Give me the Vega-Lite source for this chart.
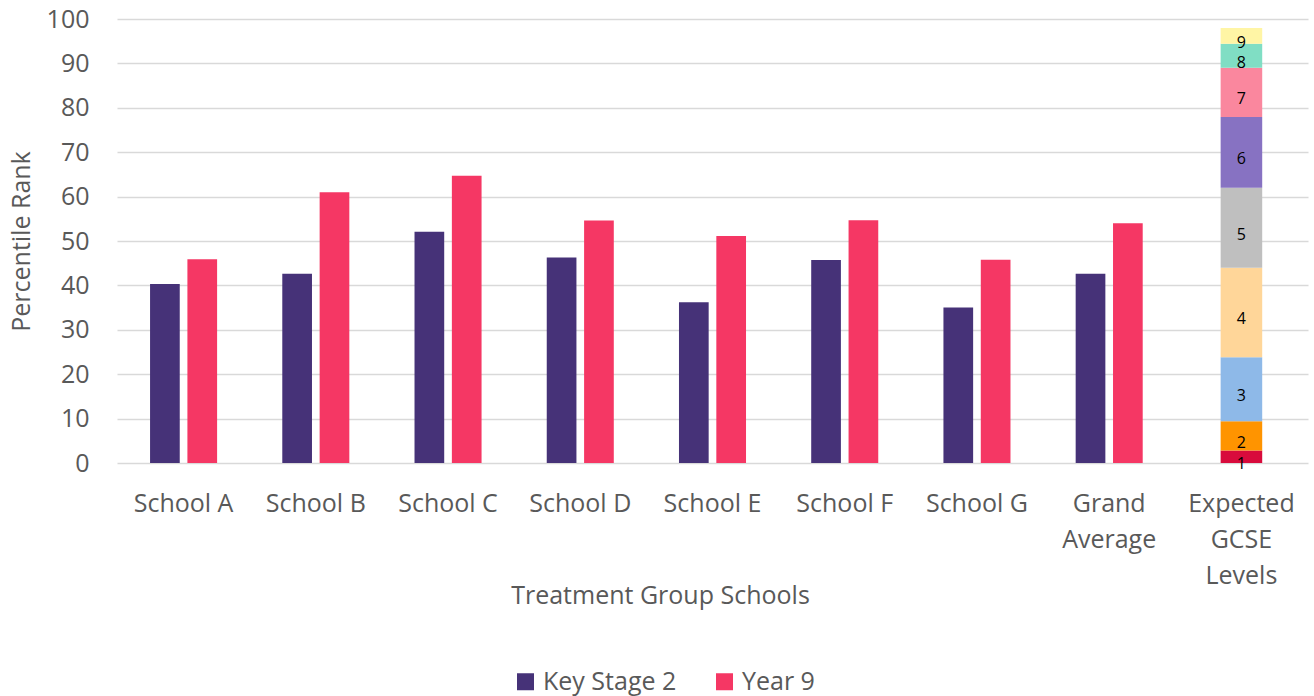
{
  "$schema": "https://vega.github.io/schema/vega-lite/v6.json",
  "width": 1191,
  "height": 444,
  "autosize": {"type": "none"},
  "padding": {"left": 117, "top": 19, "right": 6, "bottom": 233},
  "background": "white",
  "datasets": {
    "schools": [
      {"group": "School A", "series": "Key Stage 2", "value": 40.3},
      {"group": "School A", "series": "Year 9", "value": 45.9},
      {"group": "School B", "series": "Key Stage 2", "value": 42.6},
      {"group": "School B", "series": "Year 9", "value": 61.0},
      {"group": "School C", "series": "Key Stage 2", "value": 52.1},
      {"group": "School C", "series": "Year 9", "value": 64.7},
      {"group": "School D", "series": "Key Stage 2", "value": 46.3},
      {"group": "School D", "series": "Year 9", "value": 54.6},
      {"group": "School E", "series": "Key Stage 2", "value": 36.2},
      {"group": "School E", "series": "Year 9", "value": 51.1},
      {"group": "School F", "series": "Key Stage 2", "value": 45.7},
      {"group": "School F", "series": "Year 9", "value": 54.7},
      {"group": "School G", "series": "Key Stage 2", "value": 35.0},
      {"group": "School G", "series": "Year 9", "value": 45.8},
      {"group": "Grand Average", "series": "Key Stage 2", "value": 42.6},
      {"group": "Grand Average", "series": "Year 9", "value": 54.0}
    ],
    "levels": [
      {"group": "Expected GCSE Levels", "level": "1", "lo": 0, "hi": 2.8},
      {"group": "Expected GCSE Levels", "level": "2", "lo": 2.8, "hi": 9.4},
      {"group": "Expected GCSE Levels", "level": "3", "lo": 9.4, "hi": 23.8},
      {"group": "Expected GCSE Levels", "level": "4", "lo": 23.8, "hi": 44.0},
      {"group": "Expected GCSE Levels", "level": "5", "lo": 44.0, "hi": 62.0},
      {"group": "Expected GCSE Levels", "level": "6", "lo": 62.0, "hi": 77.9},
      {"group": "Expected GCSE Levels", "level": "7", "lo": 77.9, "hi": 89.0},
      {"group": "Expected GCSE Levels", "level": "8", "lo": 89.0, "hi": 94.4},
      {"group": "Expected GCSE Levels", "level": "9", "lo": 94.4, "hi": 98.0}
    ]
  },
  "config": {
    "view": {"stroke": null},
    "font": "Open Sans",
    "axis": {
      "labelFont": "Open Sans",
      "titleFont": "Open Sans",
      "labelColor": "#595959",
      "titleColor": "#595959",
      "labelFontSize": 25,
      "titleFontSize": 25,
      "titleFontWeight": "normal",
      "ticks": false,
      "domain": false
    },
    "legend": {
      "orient": "none",
      "legendX": 396,
      "legendY": 650,
      "direction": "horizontal",
      "symbolType": "square",
      "symbolSize": 289,
      "symbolStrokeWidth": 0,
      "symbolOpacity": 1,
      "labelFont": "Open Sans",
      "labelFontSize": 25,
      "labelColor": "#595959",
      "labelOffset": 5,
      "columnPadding": 35,
      "title": null
    }
  },
  "layer": [
    {
      "data": {"name": "schools"},
      "mark": {"type": "bar"},
      "encoding": {
        "x": {
          "field": "group",
          "type": "nominal",
          "title": "Treatment Group Schools",
          "scale": {
            "domain": ["School A", "School B", "School C", "School D", "School E", "School F", "School G", "Grand Average", "Expected GCSE Levels"],
            "paddingInner": 0.493,
            "paddingOuter": 0.25
          },
          "axis": {
            "labelAngle": 0,
            "labelPadding": 28,
            "labelLineHeight": 36,
            "labelExpr": "datum.label == 'Grand Average' ? ['Grand', 'Average'] : datum.label == 'Expected GCSE Levels' ? ['Expected', 'GCSE', 'Levels'] : datum.label",
            "grid": false,
            "titleX": 543,
            "titleY": 140,
            "titleAlign": "center",
            "titleBaseline": "alphabetic"
          }
        },
        "xOffset": {
          "field": "series",
          "type": "nominal",
          "scale": {"domain": ["Key Stage 2", "Year 9"], "paddingInner": 0.205, "paddingOuter": 0}
        },
        "y": {
          "field": "value",
          "type": "quantitative",
          "title": "Percentile Rank",
          "scale": {"domain": [0, 100], "nice": false},
          "axis": {
            "values": [0, 10, 20, 30, 40, 50, 60, 70, 80, 90, 100],
            "grid": true,
            "gridColor": "#d9d9d9",
            "gridWidth": 1.3,
            "labelPadding": 28,
            "titleX": -96,
            "titleY": 222,
            "titleAngle": -90,
            "titleAlign": "center",
            "titleBaseline": "middle"
          }
        },
        "color": {
          "field": "series",
          "type": "nominal",
          "scale": {"domain": ["Key Stage 2", "Year 9"], "range": ["#463278", "#F53764"]}
        }
      }
    },
    {
      "data": {"name": "levels"},
      "mark": {"type": "bar", "width": {"band": 0.62}},
      "encoding": {
        "x": {"field": "group", "type": "nominal", "title": "Treatment Group Schools"},
        "y": {"field": "hi", "type": "quantitative", "title": "Percentile Rank"},
        "y2": {"field": "lo"},
        "color": {
          "field": "level",
          "type": "nominal",
          "scale": {
            "domain": ["1", "2", "3", "4", "5", "6", "7", "8", "9"],
            "range": ["#D80B3C", "#FF9400", "#8EB9E8", "#FFD699", "#BFBFBF", "#8772C2", "#FA879E", "#80DEC4", "#FFF5A5"]
          },
          "legend": null
        }
      }
    },
    {
      "data": {"name": "levels"},
      "transform": [{"fold": ["lo", "hi"], "as": ["bound", "v"]}],
      "mark": {"type": "text", "font": "Open Sans", "fontSize": 16, "color": "#000000", "baseline": "middle", "dy": 7},
      "encoding": {
        "x": {"field": "group", "type": "nominal", "title": "Treatment Group Schools"},
        "y": {"aggregate": "mean", "field": "v", "type": "quantitative", "title": "Percentile Rank", "stack": null},
        "text": {"field": "level", "type": "nominal"}
      }
    }
  ],
  "resolve": {"scale": {"color": "independent"}}
}
